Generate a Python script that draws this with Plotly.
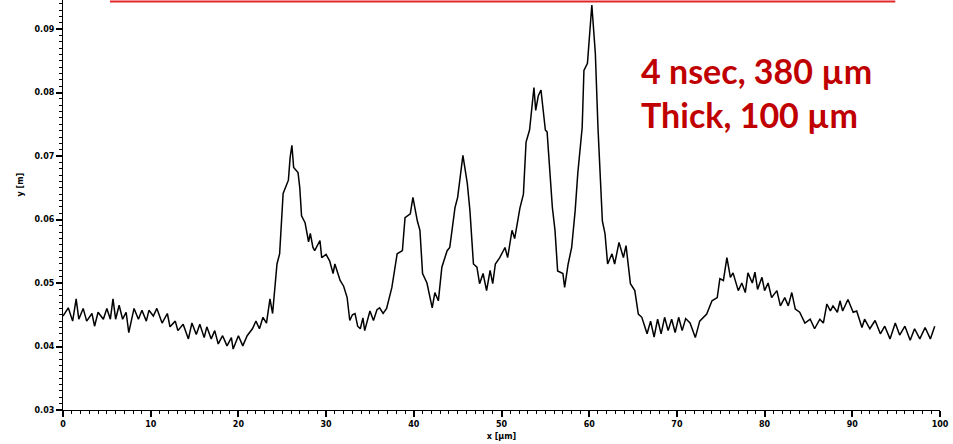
import plotly.graph_objects as go

x_um = [0.0, 0.6, 1.1, 1.5, 1.8, 2.3, 2.7, 3.3, 3.6, 4.0, 4.6, 5.0, 5.4, 5.7, 6.0, 6.4, 6.8, 7.2, 7.5, 8.1,
        8.6, 9.0, 9.5, 9.8, 10.3, 10.7, 11.3, 11.9, 12.2, 12.8, 13.1, 13.7, 14.3, 14.7, 15.2, 15.6, 16.1, 16.4, 16.9, 17.3,
        17.7, 18.2, 18.7, 19.2, 19.4, 20.0, 20.5, 21.0, 21.6, 22.0, 22.4, 22.8, 23.2, 23.6, 23.9, 24.4, 24.7, 25.1, 25.7, 25.9,
        26.1, 26.3, 26.8, 27.0, 27.2, 27.6, 28.0, 28.2, 28.5, 28.7, 29.3, 29.5, 30.0, 30.4, 30.8, 31.0, 31.6, 32.0, 32.4, 32.7,
        33.0, 33.3, 33.6, 33.9, 34.2, 34.4, 35.0, 35.4, 35.8, 36.1, 36.5, 36.9, 37.5, 38.1, 38.7, 39.0, 39.6, 39.9, 40.4, 40.7,
        41.0, 41.5, 42.1, 42.4, 42.8, 43.2, 43.8, 44.1, 44.7, 45.0, 45.6, 46.1, 46.4, 46.8, 47.2, 47.5, 47.9, 48.3, 48.7, 49.0,
        49.3, 49.8, 50.4, 50.7, 51.2, 51.5, 52.1, 52.5, 52.8, 53.2, 53.7, 53.9, 54.2, 54.5, 55.0, 55.2, 55.8, 56.1, 56.4, 57.0,
        57.2, 57.6, 58.0, 58.4, 58.7, 59.2, 59.4, 59.8, 60.3, 60.7, 61.0, 61.5, 61.8, 62.1, 62.6, 62.9, 63.4, 63.9, 64.2, 64.7,
        65.2, 65.6, 66.0, 66.6, 67.0, 67.4, 67.8, 68.2, 68.6, 69.0, 69.4, 69.8, 70.2, 70.6, 71.0, 71.5, 72.1, 72.6, 73.4, 74.0,
        74.6, 74.9, 75.3, 75.7, 76.1, 76.4, 77.0, 77.4, 77.8, 78.1, 78.6, 78.9, 79.2, 79.7, 80.0, 80.4, 80.8, 81.4, 81.8, 82.3,
        82.7, 83.1, 83.5, 84.0, 84.6, 85.2, 85.7, 86.3, 86.7, 87.1, 87.5, 87.8, 88.3, 88.6, 88.9, 89.5, 90.1, 90.5, 91.1, 91.4,
        92.0, 92.6, 93.2, 93.7, 94.3, 94.9, 95.4, 96.0, 96.6, 97.1, 97.7, 98.3, 98.9, 99.4]

y_m = [0.0448, 0.0461, 0.0440, 0.0475, 0.0443, 0.0460, 0.0440, 0.0452, 0.0432, 0.0454, 0.0443, 0.0460, 0.0443, 0.0475, 0.0443, 0.0465, 0.0443, 0.0454, 0.0422, 0.0460,
       0.0443, 0.0457, 0.0440, 0.0457, 0.0448, 0.0460, 0.0437, 0.0452, 0.0431, 0.0440, 0.0425, 0.0435, 0.0412, 0.0437, 0.0419, 0.0435, 0.0414, 0.0431, 0.0412, 0.0425,
       0.0404, 0.0417, 0.0401, 0.0414, 0.0396, 0.0417, 0.0401, 0.0417, 0.0428, 0.0440, 0.0428, 0.0446, 0.0437, 0.0475, 0.0452, 0.0530, 0.0546, 0.0641, 0.0662, 0.0698,
       0.0717, 0.0682, 0.0674, 0.0650, 0.0606, 0.0595, 0.0565, 0.0578, 0.0556, 0.0551, 0.0567, 0.0540, 0.0545, 0.0535, 0.0515, 0.0530, 0.0504, 0.0495, 0.0477, 0.0441,
       0.0450, 0.0452, 0.0432, 0.0428, 0.0445, 0.0425, 0.0456, 0.0441, 0.0458, 0.0461, 0.0452, 0.0460, 0.0493, 0.0546, 0.0551, 0.0603, 0.0609, 0.0635, 0.0598, 0.0583,
       0.0515, 0.0500, 0.0461, 0.0485, 0.0472, 0.0525, 0.0551, 0.0556, 0.0619, 0.0635, 0.0701, 0.0657, 0.0614, 0.0530, 0.0525, 0.0499, 0.0515, 0.0488, 0.0520, 0.0499,
       0.0530, 0.0540, 0.0556, 0.0540, 0.0583, 0.0570, 0.0618, 0.0640, 0.0722, 0.0741, 0.0808, 0.0772, 0.0795, 0.0804, 0.0741, 0.0738, 0.0619, 0.0583, 0.0519, 0.0515,
       0.0493, 0.0530, 0.0556, 0.0614, 0.0673, 0.0745, 0.0835, 0.0846, 0.0938, 0.0862, 0.0745, 0.0598, 0.0578, 0.0530, 0.0546, 0.0530, 0.0564, 0.0540, 0.0559, 0.0499,
       0.0488, 0.0451, 0.0446, 0.0420, 0.0440, 0.0415, 0.0443, 0.0420, 0.0446, 0.0425, 0.0443, 0.0422, 0.0446, 0.0425, 0.0444, 0.0437, 0.0414, 0.0440, 0.0451, 0.0472,
       0.0477, 0.0507, 0.0504, 0.0540, 0.0509, 0.0516, 0.0488, 0.0500, 0.0485, 0.0516, 0.0500, 0.0517, 0.0490, 0.0509, 0.0488, 0.0500, 0.0477, 0.0488, 0.0464, 0.0477,
       0.0464, 0.0485, 0.0459, 0.0454, 0.0437, 0.0443, 0.0428, 0.0443, 0.0437, 0.0467, 0.0456, 0.0464, 0.0454, 0.0472, 0.0456, 0.0474, 0.0454, 0.0456, 0.0430, 0.0443,
       0.0428, 0.0441, 0.0420, 0.0432, 0.0412, 0.0437, 0.0418, 0.0432, 0.0410, 0.0428, 0.0412, 0.0430, 0.0412, 0.0432]

assert len(x_um) == len(y_m)

x_ticks = [0, 10, 20, 30, 40, 50, 60, 70, 80, 90, 100]
y_ticks = [0.03, 0.04, 0.05, 0.06, 0.07, 0.08, 0.09]
label_text = "4 nsec, 380 µm<br>Thick, 100 µm"

tick_font = dict(family="DejaVu Sans", size=8, color="black", weight="bold")

fig = go.Figure()
fig.add_trace(go.Scatter(x=x_um, y=y_m, mode="lines",
                         line=dict(color="black", width=1.5), showlegend=False))

fig.update_layout(
    width=953, height=444,
    margin=dict(l=63, r=13, t=0, b=34),
    paper_bgcolor="white", plot_bgcolor="white",
    xaxis=dict(range=[0, 100], tickvals=x_ticks, ticks="outside", ticklen=6, tickwidth=1.5,
               tickcolor="black", showline=True, linecolor="black", linewidth=1.2,
               showgrid=False, zeroline=False, tickfont=tick_font,
               minor=dict(dtick=1, ticks="outside", ticklen=3, tickcolor="black", tickwidth=1.2, showgrid=False),
               title=dict(text="x [µm]", font=tick_font, standoff=5)),
    yaxis=dict(range=[0.03, 0.09458], tickvals=y_ticks, tickformat=".2f", ticks="outside", ticklen=6,
               tickwidth=1.5, tickcolor="black", showline=True, linecolor="black", linewidth=1.2,
               showgrid=False, zeroline=False, tickfont=tick_font,
               minor=dict(dtick=0.001, ticks="outside", ticklen=3, tickcolor="black", tickwidth=1.2, showgrid=False)),
    annotations=[
        dict(text="y [m]", xref="paper", yref="paper", x=-0.048, y=0.55, textangle=-90,
             showarrow=False, font=tick_font, xanchor="center", yanchor="middle"),
        dict(text=label_text, xref="paper", yref="paper", x=0.657, y=0.882, xanchor="left", yanchor="top",
             align="left", showarrow=False,
             font=dict(family="Lato", size=34, color="#c00000", weight="bold")),
    ],
    shapes=[dict(type="line", xref="paper", yref="paper", x0=0.0536, x1=0.949, y0=0.9965, y1=0.9965,
                 line=dict(color="#e3262b", width=2))],
)

fig.write_html("out.html")
